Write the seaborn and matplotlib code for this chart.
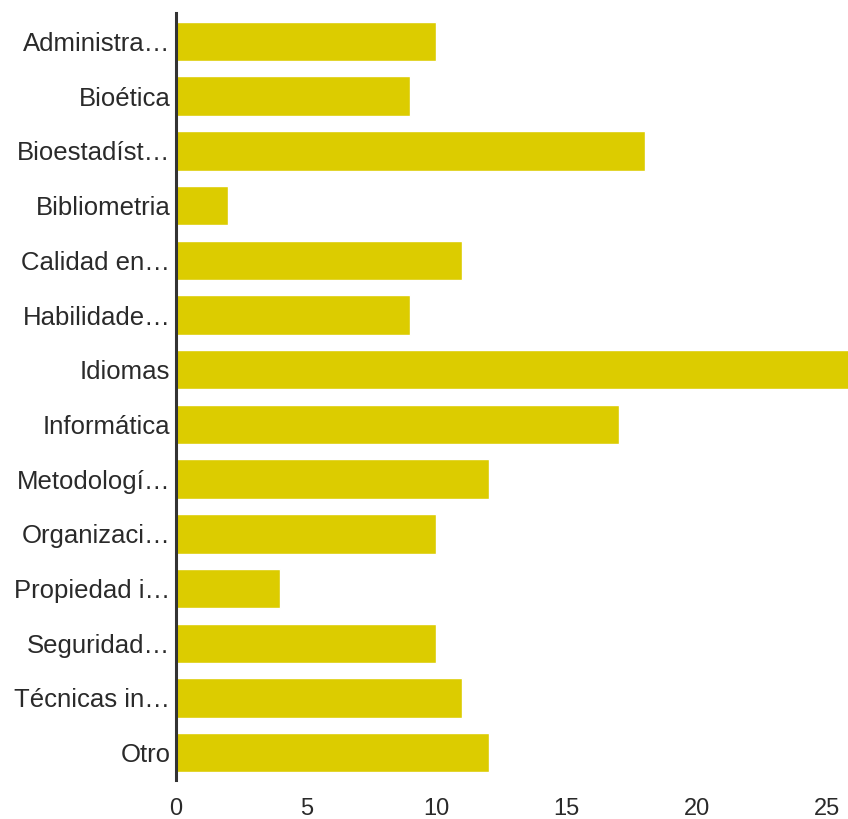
import pandas as pd
import numpy as np
import seaborn as sns
import matplotlib.pyplot as plt

categories = ["Administra…", "Bioética", "Bioestadíst…", "Bibliometria", "Calidad en…",
              "Habilidade…", "Idiomas", "Informática", "Metodologí…", "Organizaci…",
              "Propiedad i…", "Seguridad…", "Técnicas in…", "Otro"]
counts = [10, 9, 18, 2, 11, 9, 26, 17, 12, 10, 4, 10, 11, 12]
x_ticks = [0, 5, 10, 15, 20, 25]

df = pd.DataFrame({"Categoria": categories, "Respuestas": counts})

sns.set_style("white")
plt.rcParams['font.family'] = ['Liberation Sans', 'DejaVu Sans']

fig = plt.figure(figsize=(8.48, 8.19), dpi=100)
ax = fig.add_axes([0.2075, 0.0476, 0.7925, 0.9365])
sns.barplot(data=df, x="Respuestas", y="Categoria", color="#dccc00",
            saturation=1, width=0.72, ax=ax)

ax.set_xlim(0, 25.8)
ax.set_ylim(13.5, -0.52)
ax.set_xticks(x_ticks)
ax.set_xlabel("")
ax.set_ylabel("")
ax.tick_params(axis="both", length=0, colors="#2a2a2a")
ax.tick_params(axis="x", pad=13, labelsize=17)
ax.tick_params(axis="y", pad=4, labelsize=18.5)
for side in ["top", "right", "bottom"]:
    ax.spines[side].set_visible(False)
ax.spines["left"].set_color("#333333")
ax.spines["left"].set_linewidth(2.2)

fig.savefig("out.png", dpi=100)
